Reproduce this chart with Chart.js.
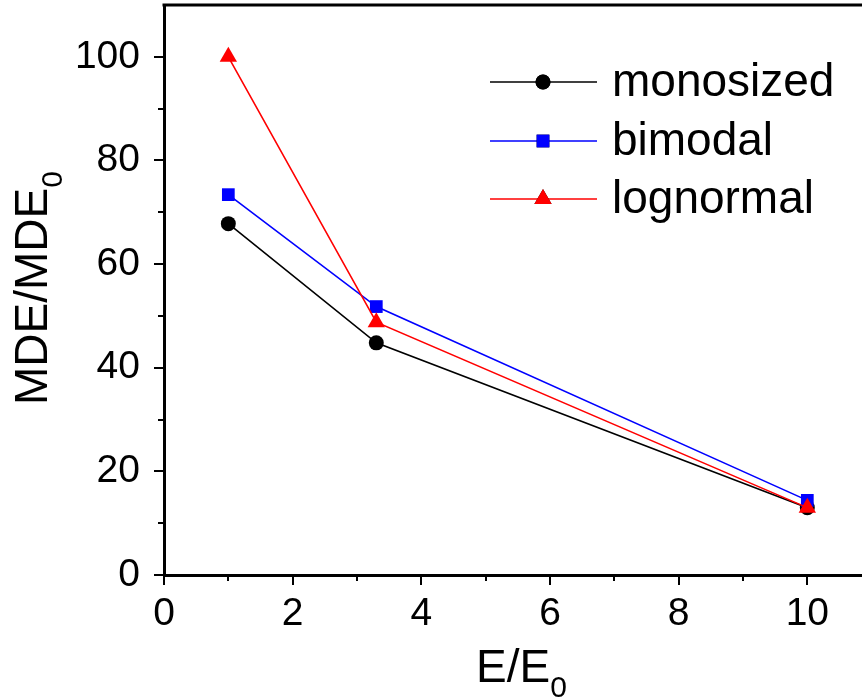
<!DOCTYPE html>
<html>
<head>
<meta charset="utf-8">
<script src="https://cdn.jsdelivr.net/npm/chart.js@4"></script>
<style>
  html, body { margin: 0; padding: 0; background: #fff; }
  #chart { display: block; }
</style>
</head>
<body>
<canvas id="chart" width="862" height="700"></canvas>
<script>
// -------------------- DATA --------------------
const energyRatio = [1, 3.3, 10];
const monosized = [67.8, 44.8, 13.0];
const bimodal = [73.4, 51.8, 14.4];
const lognormal = [100, 48.8, 13.0];
const seriesNames = ['monosized', 'bimodal', 'lognormal'];
const xTickLabels = [0, 2, 4, 6, 8, 10];
const yTickLabels = [0, 20, 40, 60, 80, 100];

const FONT = '"Liberation Sans", Arial, Helvetica, sans-serif';

function toPoints(values) {
    return energyRatio.map((x, i) => ({ x: x, y: values[i] }));
}

// -------------------- AXIS TICKS, FRAME, TITLES, LEGEND --------------------
const decorations = {
    id: 'decorations',
    afterDraw(chart) {
        const ctx = chart.ctx;
        const area = chart.chartArea;
        const xs = chart.scales.x;
        const ys = chart.scales.y;
        ctx.save();

        // top frame line
        ctx.strokeStyle = '#000';
        ctx.lineWidth = 3;
        ctx.beginPath();
        ctx.moveTo(area.left - 1.5, area.top);
        ctx.lineTo(chart.width, area.top);
        ctx.stroke();

        // outward tick marks, major + minor
        ctx.lineWidth = 2;
        ctx.beginPath();
        for (let v = 0; v <= 10; v++) {
            const px = Math.round(xs.getPixelForValue(v));
            const len = v % 2 === 0 ? 10 : 6;
            ctx.moveTo(px, area.bottom);
            ctx.lineTo(px, area.bottom + len);
        }
        for (let v = 0; v <= 100; v += 10) {
            const py = Math.round(ys.getPixelForValue(v));
            const len = v % 20 === 0 ? 10 : 6;
            ctx.moveTo(area.left, py);
            ctx.lineTo(area.left - len, py);
        }
        ctx.stroke();

        // axis titles with subscripts
        ctx.fillStyle = '#000';
        ctx.textBaseline = 'alphabetic';
        ctx.textAlign = 'left';
        ctx.font = '46px ' + FONT;
        const xMain = 'E/E';
        ctx.fillText(xMain, 476, 682);
        const xw = ctx.measureText(xMain).width;
        ctx.font = '30px ' + FONT;
        ctx.fillText('0', 476 + xw, 697);

        ctx.save();
        ctx.translate(47, 405);
        ctx.rotate(-Math.PI / 2);
        ctx.font = '46px ' + FONT;
        const yMain = 'MDE/MDE';
        ctx.fillText(yMain, 0, 0);
        const yw = ctx.measureText(yMain).width;
        ctx.font = '30px ' + FONT;
        ctx.fillText('0', yw, 15);
        ctx.restore();

        // legend: line segment with marker, then name
        const rows = [82, 141, 199];
        chart.data.datasets.forEach((ds, i) => {
            const y = rows[i];
            ctx.strokeStyle = ds.borderColor;
            ctx.lineWidth = ds.borderWidth;
            ctx.beginPath();
            ctx.moveTo(490, y);
            ctx.lineTo(597, y);
            ctx.stroke();
            Chart.helpers.drawPoint(ctx, {
                pointStyle: ds.pointStyle,
                radius: ds.pointRadius,
                rotation: 0,
                borderWidth: 0
            }, 543, y);
            ctx.fillStyle = ds.pointBackgroundColor;
            ctx.fill();
            ctx.fillStyle = '#000';
            ctx.font = '46px ' + FONT;
            ctx.textBaseline = 'middle';
            ctx.fillText(ds.label, 612, y + 1);
        });
        ctx.restore();
    }
};

// -------------------- CHART --------------------
// lower order is painted on top, so lognormal sits above the others
function series(label, values, color, style, radius, order) {
    return {
        label: label,
        data: toPoints(values),
        borderColor: color,
        backgroundColor: color,
        pointBackgroundColor: color,
        pointBorderColor: color,
        pointBorderWidth: 0,
        borderWidth: 1.6,
        pointStyle: style,
        pointRadius: radius,
        tension: 0,
        order: order
    };
}

new Chart(document.getElementById('chart'), {
    type: 'line',
    data: {
        datasets: [
            series(seriesNames[0], monosized, '#000000', 'circle', 7.5, 2),
            series(seriesNames[1], bimodal, '#0000ff', 'rect', 9, 1),
            series(seriesNames[2], lognormal, '#ff0000', 'triangle', 10, 0)
        ]
    },
    options: {
        responsive: false,
        animation: false,
        layout: { autoPadding: false, padding: { top: 5, right: 0, left: 0, bottom: 0 } },
        plugins: {
            legend: { display: false },
            tooltip: { enabled: false }
        },
        scales: {
            x: {
                type: 'linear',
                min: 0,
                max: 10.85,
                afterFit(scale) {
                    scale.height = 125;
                    scale.paddingLeft = 0;
                    scale.paddingRight = 0;
                },
                border: { display: true, color: '#000', width: 3 },
                grid: { display: false, drawTicks: false },
                ticks: {
                    stepSize: 2,
                    includeBounds: false,
                    padding: 16,
                    color: '#000',
                    font: { family: FONT, size: 39 },
                    maxRotation: 0,
                    callback: (v) => xTickLabels.includes(v) ? String(v) : ''
                }
            },
            y: {
                min: 0,
                max: 110,
                afterFit(scale) {
                    scale.width = 164;
                    scale.paddingTop = 0;
                    scale.paddingBottom = 0;
                },
                border: { display: true, color: '#000', width: 3 },
                grid: { display: false, drawTicks: false },
                ticks: {
                    stepSize: 20,
                    includeBounds: false,
                    padding: 24,
                    color: '#000',
                    font: { family: FONT, size: 39 },
                    callback: (v) => yTickLabels.includes(v) ? String(v) : ''
                }
            }
        }
    },
    plugins: [decorations]
});
</script>
</body>
</html>
